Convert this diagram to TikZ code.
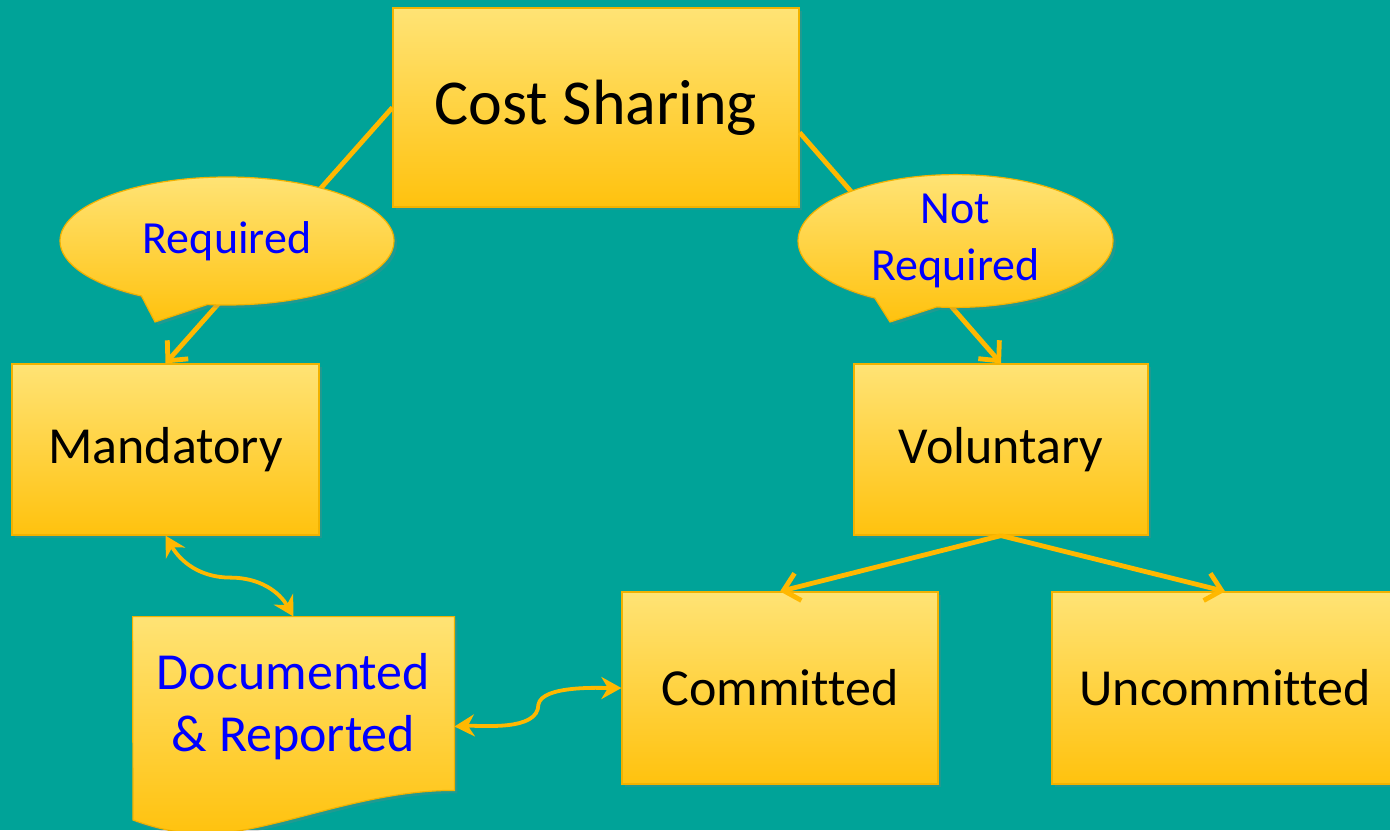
\documentclass[tikz,border=0pt]{standalone}
\usepackage{fontspec}
\setmainfont{Carlito}[Ligatures=NoCommon]
\usetikzlibrary{arrows.meta,shapes.callouts,shadows,calc}
\definecolor{bgteal}{HTML}{00A398}
\definecolor{boxtop}{HTML}{FFE375}
\definecolor{boxbot}{HTML}{FFC20E}
\definecolor{boxline}{HTML}{F2B200}
\definecolor{arrline}{HTML}{FFB800}
\begin{document}
\begin{tikzpicture}[x=0.5pt,y=-0.5pt,
   box/.style={draw=boxline, line width=0.6pt, top color=boxtop, bottom color=boxbot,
     inner sep=0pt, font=\fontsize{26}{31}\selectfont,
     drop shadow={shadow xshift=1.5pt, shadow yshift=-1.5pt, opacity=0.25}},
   bubble/.style={ellipse callout, draw=boxline, line width=0.6pt, top color=boxtop,
     bottom color=boxbot, inner sep=0pt, text=blue, align=center,
     font=\fontsize{23}{28.5}\selectfont, callout pointer arc=24,
     drop shadow={shadow xshift=1.5pt, shadow yshift=-1.5pt, opacity=0.25}},
   arr/.style={draw=arrline, line width=2.4pt, -{Straight Barb[length=7.5pt,width=14pt]}},
   dbl/.style={draw=arrline, line width=1.9pt,
     {Stealth[length=10pt,width=11pt]}-{Stealth[length=10pt,width=11pt]}}]
   \useasboundingbox (0,0) rectangle (1390,830);
   \fill[bgteal] (0,0) rectangle (1390,830);
   % boxes
   \node[box, minimum width=203pt, minimum height=99.5pt,
     font=\fontsize{32}{38}\selectfont] (cost) at (596,107.5) {Cost Sharing};
   \node[box, minimum width=153.5pt, minimum height=85.5pt] (mand) at (165.5,449.5) {Mandatory};
   \node[box, minimum width=147pt, minimum height=85.5pt] (vol) at (1001,449.5) {Voluntary};
   \node[box, minimum width=158pt, minimum height=96pt] (comm) at (780,688) {Committed};
   \node[box, minimum width=173pt, minimum height=96pt] (uncomm) at (1225,688) {Uncommitted};
   % document shape
   \node[minimum width=160.5pt, minimum height=86.5pt, inner sep=0pt] (doc) at (293.5,703.5) {};
   \path[draw=boxline, line width=0.6pt, top color=boxtop, bottom color=boxbot,
     drop shadow={shadow xshift=1.5pt, shadow yshift=-1.5pt, opacity=0.25}]
     (doc.north west) -- (doc.north east) -- (doc.south east)
     .. controls (360,790) and (270,834) .. (205,834)
     .. controls (175,834) and (150,826) .. (133,820) -- cycle;
   \node[text=blue, align=center, font=\fontsize{26}{31}\selectfont] at (293.5,707) {Documented\\\& Reported};
   % connectors
   \draw[arr] (cost.west) -- (mand.north);
   \draw[arr] ($(cost.east)+(0,25)$) -- (vol.north);
   \draw[arr] (vol.south) -- (comm.north);
   \draw[arr] (vol.south) -- (uncomm.north);
   \draw[dbl] (mand.south) to[out=-60,in=180] ++(65,42) to[out=0,in=120] (doc.north);
   \draw[dbl] ($(doc.east)+(0,23)$) to[out=3,in=-90,looseness=0.8] ++(84,-22)
     to[out=80,in=180,looseness=0.6] (comm.west);
   % callouts
   \node[bubble, minimum width=167pt, minimum height=64pt,
     callout absolute pointer={(155,322)}] (req) at (227,241) {Required};
   \node[bubble, minimum width=157.5pt, minimum height=64pt,
     callout absolute pointer={(890,322)}] (notreq) at (955.5,241) {Not\\Required};
\end{tikzpicture}
\end{document}
